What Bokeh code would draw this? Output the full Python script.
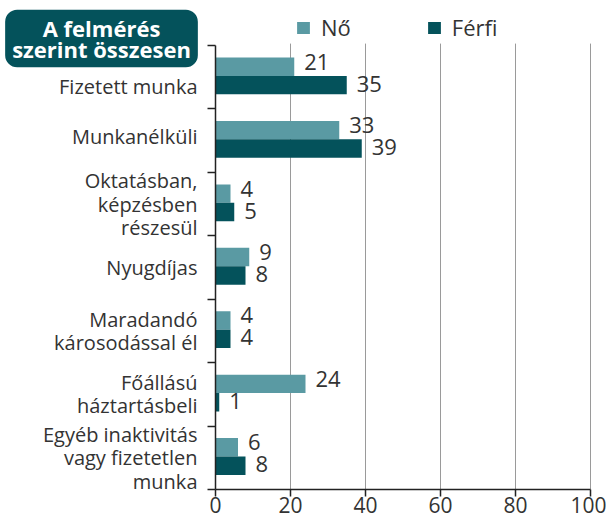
from bokeh.plotting import figure
from bokeh.models import (Range1d, FixedTicker, Label, Legend, LegendItem,
                          ColumnDataSource, LinearAxis)
from bokeh.embed import file_html
from bokeh.resources import INLINE
from bokeh.core.properties import value

# ---------------- data ----------------
categories = [
    "Fizetett munka",
    "Munkanélküli",
    "Oktatásban,\nképzésben\nrészesül",
    "Nyugdíjas",
    "Maradandó\nkárosodással él",
    "Főállású\nháztartásbeli",
    "Egyéb inaktivitás\nvagy fizetetlen\nmunka",
]
no_values = [21, 33, 4, 9, 4, 24, 6]
ferfi_values = [35, 39, 5, 8, 4, 1, 8]
x_ticks = [0, 20, 40, 60, 80, 100]
series_names = ["Nő", "Férfi"]
title_text = "A felmérés\nszerint összesen"

# ---------------- style ----------------
FONT = "Open Sans"
C_NO = "#5a9aa3"
C_FF = "#04525b"
TXT = "#333333"
AX = "#222222"
GRID = "#9a9a9a"
label_nudge_px = [9, -4, 0, 0, 0, 0, 0]   # vertical nudges of category labels

# canvas geometry (px)
W, H = 606, 520
X0_PX, X1_PX = 215, 590      # x = 0 and x = 100
Y0_PX, Y1_PX = 45, 489       # top / bottom of the category bands

n = len(categories)
xs = (X1_PX - X0_PX) / (x_ticks[-1] - x_ticks[0])
ys = (Y1_PX - Y0_PX) / n
x_range = Range1d(x_ticks[0] - X0_PX / xs, x_ticks[-1] + (W - X1_PX) / xs)
y_range = Range1d(n + (H - Y1_PX) / ys, -Y0_PX / ys)

bar_h = 0.29
centers = [i + 0.48 for i in range(n)]

src_no = ColumnDataSource(dict(
    y=[c - bar_h / 2 for c in centers], v=no_values, t=[str(v) for v in no_values]))
src_ff = ColumnDataSource(dict(
    y=[c + bar_h / 2 for c in centers], v=ferfi_values, t=[str(v) for v in ferfi_values]))
src_cat = ColumnDataSource(dict(
    x=[x_ticks[0]] * n, y=[i + 0.5 for i in range(n)], t=categories, dy=label_nudge_px))

p = figure(width=W, height=H, x_range=x_range, y_range=y_range,
           x_axis_location=None, y_axis_location=None,
           output_backend="svg", toolbar_location=None, min_border=0)
p.outline_line_color = None
p.background_fill_color = "white"
p.border_fill_color = "white"
p.grid.visible = False

# grid lines (span only the category bands)
gx = x_ticks[1:]
p.segment(x0=gx, y0=[-0.03] * len(gx), x1=gx, y1=[n] * len(gx),
          line_color=GRID, line_width=1)

r_no = p.hbar(y="y", left=0, right="v", height=bar_h, source=src_no,
              fill_color=C_NO, line_color=None)
r_ff = p.hbar(y="y", left=0, right="v", height=bar_h, source=src_ff,
              fill_color=C_FF, line_color=None)

for src, dy in ((src_no, -5), (src_ff, -1.5)):
    p.text(x="v", y="y", text="t", source=src, x_offset=10, y_offset=dy,
           text_align="left", text_baseline="middle",
           text_font=value(FONT), text_font_size="22px", text_color=TXT)

# category labels (right aligned lines)
p.text(x="x", y="y", text="t", source=src_cat, x_offset=-18, y_offset="dy",
       text_align="right", text_baseline="middle",
       text_font=value(FONT), text_font_size="20px", text_color=TXT,
       text_line_height=0.86)

# axis lines
p.segment(x0=[x_ticks[0]], y0=[n], x1=[x_ticks[-1]], y1=[n], line_color=AX, line_width=1.5)
p.segment(x0=[x_ticks[0]], y0=[0], x1=[x_ticks[0]], y1=[n], line_color=AX, line_width=1.5)

# x axis (ticks + labels)
xaxis = LinearAxis(fixed_location=n, ticker=FixedTicker(ticks=x_ticks))
xaxis.axis_line_color = None
xaxis.major_tick_out = 7
xaxis.major_tick_in = 0
xaxis.minor_tick_out = 0
xaxis.minor_tick_in = 0
xaxis.major_tick_line_color = AX
xaxis.major_tick_line_width = 1.5
xaxis.major_label_standoff = 0
xaxis.major_label_text_font = FONT
xaxis.major_label_text_font_size = "21px"
xaxis.major_label_text_color = TXT
p.add_layout(xaxis, "below")

# y axis: only boundary ticks between categories
yaxis = LinearAxis(fixed_location=x_ticks[0],
                   ticker=FixedTicker(ticks=[], minor_ticks=list(range(n + 1))))
yaxis.axis_line_color = None
yaxis.major_tick_line_color = None
yaxis.major_label_text_alpha = 0
yaxis.minor_tick_out = 8
yaxis.minor_tick_in = 0
yaxis.minor_tick_line_color = AX
yaxis.minor_tick_line_width = 1.5
p.add_layout(yaxis, "left")

legend = Legend(items=[LegendItem(label=series_names[0], renderers=[r_no]),
                       LegendItem(label=series_names[1], renderers=[r_ff])],
                orientation="horizontal", location=(295, H - 42),
                glyph_width=16, glyph_height=15, label_standoff=10, spacing=75,
                padding=0, margin=0, border_line_color=None,
                background_fill_alpha=0,
                label_text_font=FONT, label_text_font_size="22px",
                label_text_color=TXT)
p.add_layout(legend)

title = Label(x=101, y=H - 38, x_units="screen", y_units="screen", text=title_text,
              text_align="center", text_baseline="middle",
              text_font=FONT, text_font_style="bold", text_font_size="22px",
              text_color="white", text_line_height=0.72,
              background_fill_color=C_FF, border_radius=12, padding=(7, 3))
p.add_layout(title)

open("out.html", "w").write(file_html(p, INLINE))
